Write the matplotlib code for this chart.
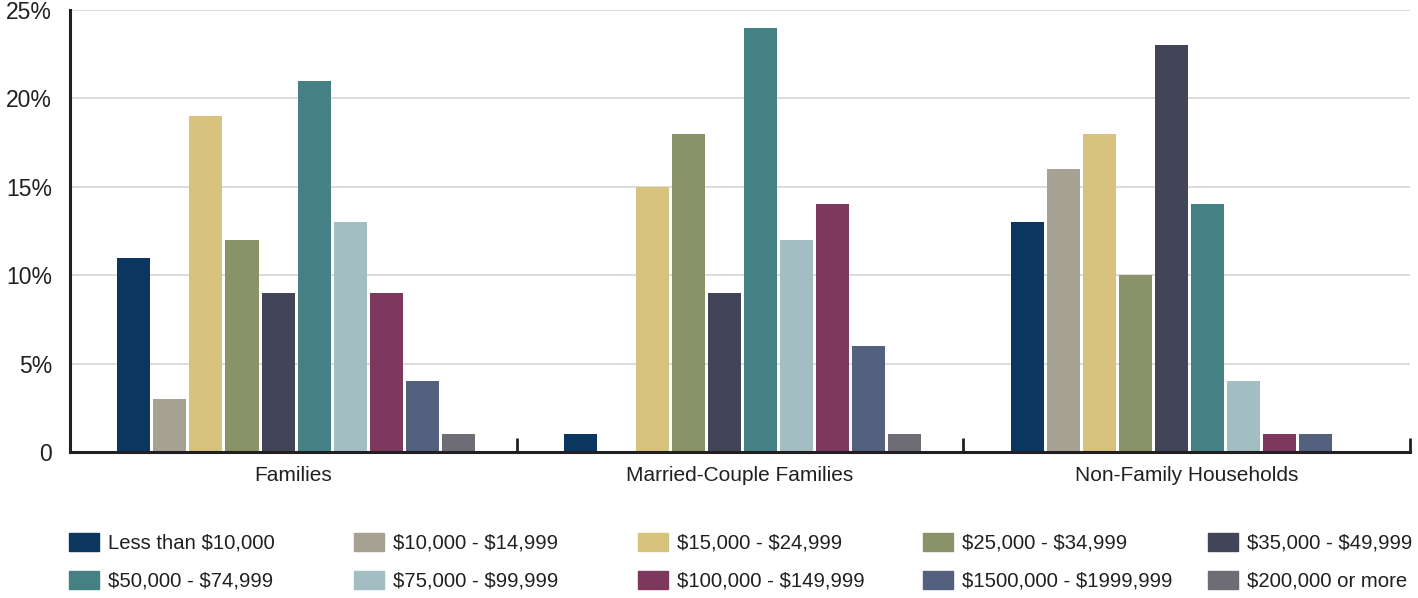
import numpy as np
import matplotlib.pyplot as plt
from matplotlib.patches import Patch

plt.rcParams['font.family'] = ['Liberation Sans', 'DejaVu Sans']
plt.rcParams['text.parse_math'] = False

# donnees
groupes = ['Families', 'Married-Couple Families', 'Non-Family Households']
tranches = ['Less than $10,000', '$10,000 - $14,999', '$15,000 - $24,999',
            '$25,000 - $34,999', '$35,000 - $49,999', '$50,000 - $74,999',
            '$75,000 - $99,999', '$100,000 - $149,999', '$1500,000 - $1999,999',
            '$200,000 or more']
families = [11, 3, 19, 12, 9, 21, 13, 9, 4, 1]
married = [1, 0, 15, 18, 9, 24, 12, 14, 6, 1]
non_family = [13, 16, 18, 10, 23, 14, 4, 1, 1, 0]
couleurs = ['#0B3660', '#A5A293', '#D7C27E', '#8A9368', '#424457',
            '#458084', '#A2BEC2', '#7E385D', '#53607E', '#6E6D75']

valeurs = np.array([families, married, non_family])  # (groupes, tranches)

fig = plt.figure(figsize=(14.18, 5.98), dpi=100)
ax = fig.add_axes([0.0494, 0.2441, 0.945, 0.7392])

x = np.arange(len(groupes))
pas = 0.0807
larg = 0.074
n = len(tranches)
for i in range(n):
    ax.bar(x + (i - (n - 1) / 2) * pas + 0.006, valeurs[:, i], width=larg,
           color=couleurs[i], zorder=3)

ax.set_xlim(-0.5, 2.5)
ax.set_ylim(0, 25)
ax.set_yticks([0, 5, 10, 15, 20, 25])
ax.set_yticklabels(['0', '5%', '10%', '15%', '20%', '25%'])
ax.yaxis.grid(True, color='#D6D6D6', linewidth=1.2, zorder=0)
ax.tick_params(axis='y', length=0, pad=13, labelsize=16.5, colors='#231F20')

# graduations entre les groupes, libelles au centre
ax.set_xticks([-0.5, 0.5, 1.5, 2.5])
ax.set_xticklabels([])
ax.tick_params(axis='x', which='major', direction='in', length=10, width=2,
               color='#231F20')
ax.set_xticks(x, minor=True)
ax.set_xticklabels(groupes, minor=True)
ax.tick_params(axis='x', which='minor', length=0, pad=10, labelsize=15,
               labelcolor='#231F20')

for s in ['top', 'right']:
    ax.spines[s].set_visible(False)
for s in ['left', 'bottom']:
    ax.spines[s].set_linewidth(2.2)
    ax.spines[s].set_color('#231F20')
    ax.spines[s].set_zorder(4)

# legende : une colonne par legende pour garder un espacement regulier
col_x = [68, 353, 637, 922, 1207]
for c in range(5):
    handles = [Patch(color=couleurs[c]), Patch(color=couleurs[c + 5])]
    labels = [tranches[c], tranches[c + 5]]
    fig.legend(handles, labels, loc='upper left',
               bbox_to_anchor=(col_x[c] / 1418 - 0.0095, 1 - 519 / 598),
               frameon=False, fontsize=14.6, handlelength=1.5, handleheight=0.95,
               handletextpad=0.45, labelspacing=0.9, borderpad=0.2,
               labelcolor='#231F20')

fig.savefig('out.png', dpi=100)
